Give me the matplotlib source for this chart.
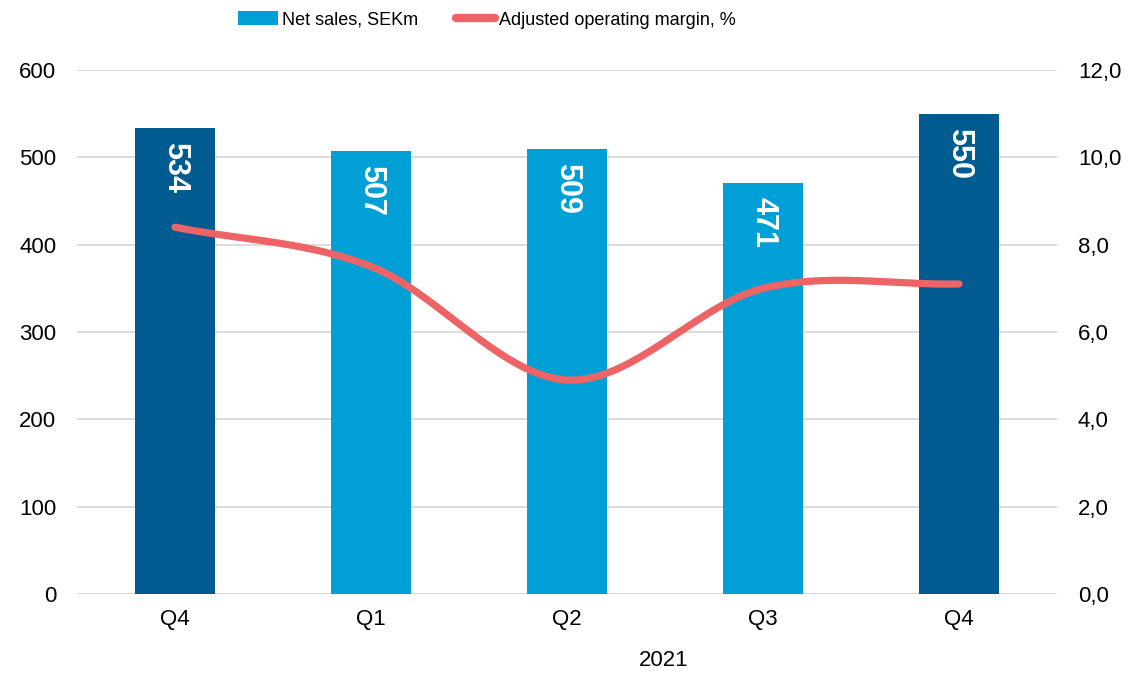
import numpy as np
import matplotlib
matplotlib.use("Agg")
import matplotlib.pyplot as plt
from matplotlib.patches import Patch
from matplotlib.lines import Line2D

categories = ["Q4", "Q1", "Q2", "Q3", "Q4"]
net_sales = [534, 507, 509, 471, 550]
margin = [8.4, 7.5, 4.9, 7.0, 7.1]
bar_colors = ["#005B91", "#00A0D6", "#00A0D6", "#00A0D6", "#005B91"]
left_ticks = [0, 100, 200, 300, 400, 500, 600]
right_ticks = [0, 2, 4, 6, 8, 10, 12]
year_label = "2021"

plt.rcParams['font.family'] = ['Liberation Sans', 'DejaVu Sans']

fig = plt.figure(figsize=(11.3, 6.74), dpi=100)
ax = fig.add_axes([77/1130, 80/674, 980/1130, 524/674])
ax2 = ax.twinx()

x = np.arange(len(categories))
ax.bar(x, net_sales, width=0.41, color=bar_colors, zorder=2)
ax.set_xlim(-0.5, len(categories) - 0.5)
ax.set_ylim(0, 600)
ax.set_yticks(left_ticks)
ax.yaxis.grid(True, color="#D9D9D9", linewidth=1.3, zorder=0)
ax.set_axisbelow(True)
for s in ax.spines.values():
    s.set_visible(False)
ax.axhline(0, color="#D9D9D9", linewidth=1.3, zorder=1)
ax.set_xticks(x)
ax.set_xticklabels(categories)
ax.tick_params(axis='both', length=0, labelsize=16, colors="#000000")
ax.tick_params(axis='y', pad=15)
ax.tick_params(axis='x', pad=11)

for xi, v in zip(x, net_sales):
    ax.annotate(str(v), xy=(xi, v), xytext=(0, -10), textcoords="offset points",
                ha="center", va="top", rotation=270, color="white",
                fontsize=22, fontweight="bold", zorder=3)

# Catmull-Rom smoothing of margin line (Excel-style smoothed line)
def catmull_rom(xs, ys, n=40):
    xs = np.asarray(xs, float); ys = np.asarray(ys, float)
    px = np.concatenate([[2*xs[0]-xs[1]], xs, [2*xs[-1]-xs[-2]]])
    py = np.concatenate([[2*ys[0]-ys[1]], ys, [2*ys[-1]-ys[-2]]])
    ox, oy = [], []
    for i in range(1, len(px)-2):
        t = np.linspace(0, 1, n)
        p0x, p1x, p2x, p3x = px[i-1:i+3]
        p0y, p1y, p2y, p3y = py[i-1:i+3]
        def cr(a, b, c, d):
            return 0.5*((2*b) + (-a+c)*t + (2*a-5*b+4*c-d)*t**2 + (-a+3*b-3*c+d)*t**3)
        ox.append(cr(p0x, p1x, p2x, p3x)); oy.append(cr(p0y, p1y, p2y, p3y))
    return np.concatenate(ox), np.concatenate(oy)

sx, sy = catmull_rom(x, margin)
ax2.plot(sx, sy, color="#EE6466", linewidth=5.2, solid_capstyle="round", zorder=4)
ax2.set_ylim(0, 12)
ax2.set_yticks(right_ticks)
ax2.set_yticklabels([f"{t:.1f}".replace(".", ",") for t in right_ticks])
ax2.tick_params(axis='y', length=0, labelsize=16, pad=15)
for s in ax2.spines.values():
    s.set_visible(False)

fig.text(664 / 1130, 1 - 661/674, year_label, ha="center", va="center", fontsize=16)

handles = [Patch(facecolor="#00A0D6", edgecolor="none"),
           Line2D([0], [0], color="#EE6466", linewidth=6, solid_capstyle="round")]
fig.legend(handles, ["Net sales, SEKm", "Adjusted operating margin, %"],
           loc="center", bbox_to_anchor=(487/1130, 1 - 20/674), ncol=2, frameon=False,
           fontsize=13, handlelength=2.2, handleheight=0.78, handletextpad=0.2,
           columnspacing=2.1)

fig.savefig("out.png", dpi=100)
